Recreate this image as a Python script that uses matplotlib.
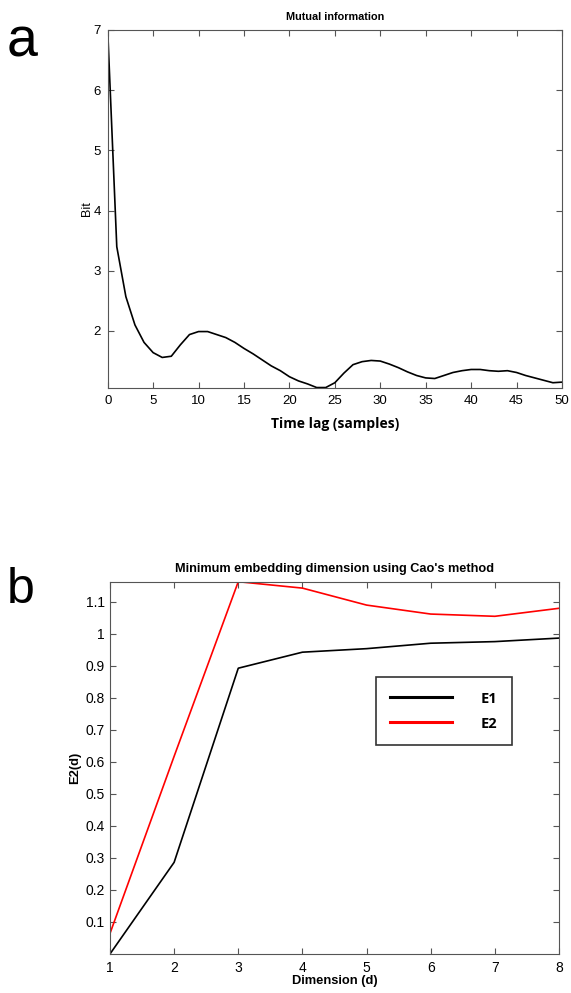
import matplotlib
matplotlib.use("Agg")
import matplotlib.pyplot as plt

plt.rcParams['font.family'] = ['Liberation Sans', 'DejaVu Sans']

# mutual information vs time lag
lag = list(range(0, 51))
bits = [7.0, 3.40, 2.57, 2.10, 1.81, 1.64, 1.56, 1.58, 1.77, 1.94,
        1.99, 1.99, 1.94, 1.89, 1.81, 1.71, 1.62, 1.52, 1.42, 1.34,
        1.24, 1.17, 1.12, 1.06, 1.06, 1.14, 1.30, 1.44, 1.49, 1.51,
        1.50, 1.45, 1.39, 1.32, 1.26, 1.22, 1.21, 1.26, 1.31, 1.34,
        1.36, 1.36, 1.34, 1.33, 1.34, 1.31, 1.26, 1.22, 1.18, 1.14,
        1.15]

# Cao's method
dims = [1, 2, 3, 4, 5, 6, 7, 8]
e1 = [0.0, 0.286, 0.892, 0.942, 0.953, 0.970, 0.975, 0.986]
e2 = [0.064, 0.617, 1.162, 1.142, 1.089, 1.061, 1.054, 1.079]

fig = plt.figure(figsize=(5.71, 9.93), dpi=100)

def style(ax, fs, pad=5):
    for s in ax.spines.values():
        s.set_color('#555555')
        s.set_linewidth(0.8)
    ax.tick_params(direction='in', top=True, right=True, length=4,
                   color='#555555', labelsize=fs, pad=pad)

# panel a
ax1 = fig.add_axes([0.1886, 0.6093, 0.7956, 0.3605])
ax1.plot(lag, bits, color='black', lw=1.2)
ax1.set_xlim(0, 50)
ax1.set_ylim(1.053, 7)
ax1.set_xticks(range(0, 51, 5))
ax1.set_yticks([2, 3, 4, 5, 6, 7])
style(ax1, 9.5)
ax1.set_title('Mutual information', fontsize=7.8, fontweight='bold', pad=7)
ax1.set_ylabel('Bit', fontsize=9)
ax1.yaxis.set_label_coords(-0.032, 0.5)
ax1.set_xlabel('Time lag (samples)', fontsize=10, fontweight='bold',
               family=['Open Sans', 'DejaVu Sans'], labelpad=7)

# panel b
ax2 = fig.add_axes([0.1926, 0.0393, 0.7864, 0.3749])
ax2.plot(dims, e1, color='black', lw=1.2, label='E1')
ax2.plot(dims, e2, color='red', lw=1.2, label='E2')
ax2.set_xlim(1, 8)
ax2.set_ylim(0.0, 1.162)
ax2.set_yticks([0.1, 0.2, 0.3, 0.4, 0.5, 0.6, 0.7, 0.8, 0.9, 1.0, 1.1])
ax2.set_yticklabels(['0.1', '0.2', '0.3', '0.4', '0.5', '0.6', '0.7',
                     '0.8', '0.9', '1', '1.1'])
style(ax2, 10)
ax2.tick_params(axis='y', pad=3.5)
ax2.set_title("Minimum embedding dimension using Cao's method",
              fontsize=9.2, fontweight='bold', pad=7)
ax2.set_ylabel('E2(d)', fontsize=9.3, fontweight='bold')
ax2.yaxis.set_label_coords(-0.064, 0.5)
ax2.set_xlabel('Dimension (d)', fontsize=9.3, fontweight='bold', labelpad=0)

leg = ax2.legend(loc='upper left', bbox_to_anchor=(0.592, 0.744),
                 frameon=True, fancybox=False, handlelength=4.2,
                 handletextpad=2.0, borderpad=1.0, labelspacing=0.75,
                 borderaxespad=0,
                 prop={'family': ['Open Sans', 'DejaVu Sans'],
                       'weight': 'bold', 'size': 10.5})
leg.get_frame().set_edgecolor('black')
leg.get_frame().set_linewidth(1.2)
for h in leg.get_lines():
    h.set_linewidth(2.2)

fig.text(0.012, 0.9426, 'a', fontsize=40, va='baseline')
fig.text(0.012, 0.3927, 'b', fontsize=36, va='baseline')

fig.savefig('out.png', dpi=100)
